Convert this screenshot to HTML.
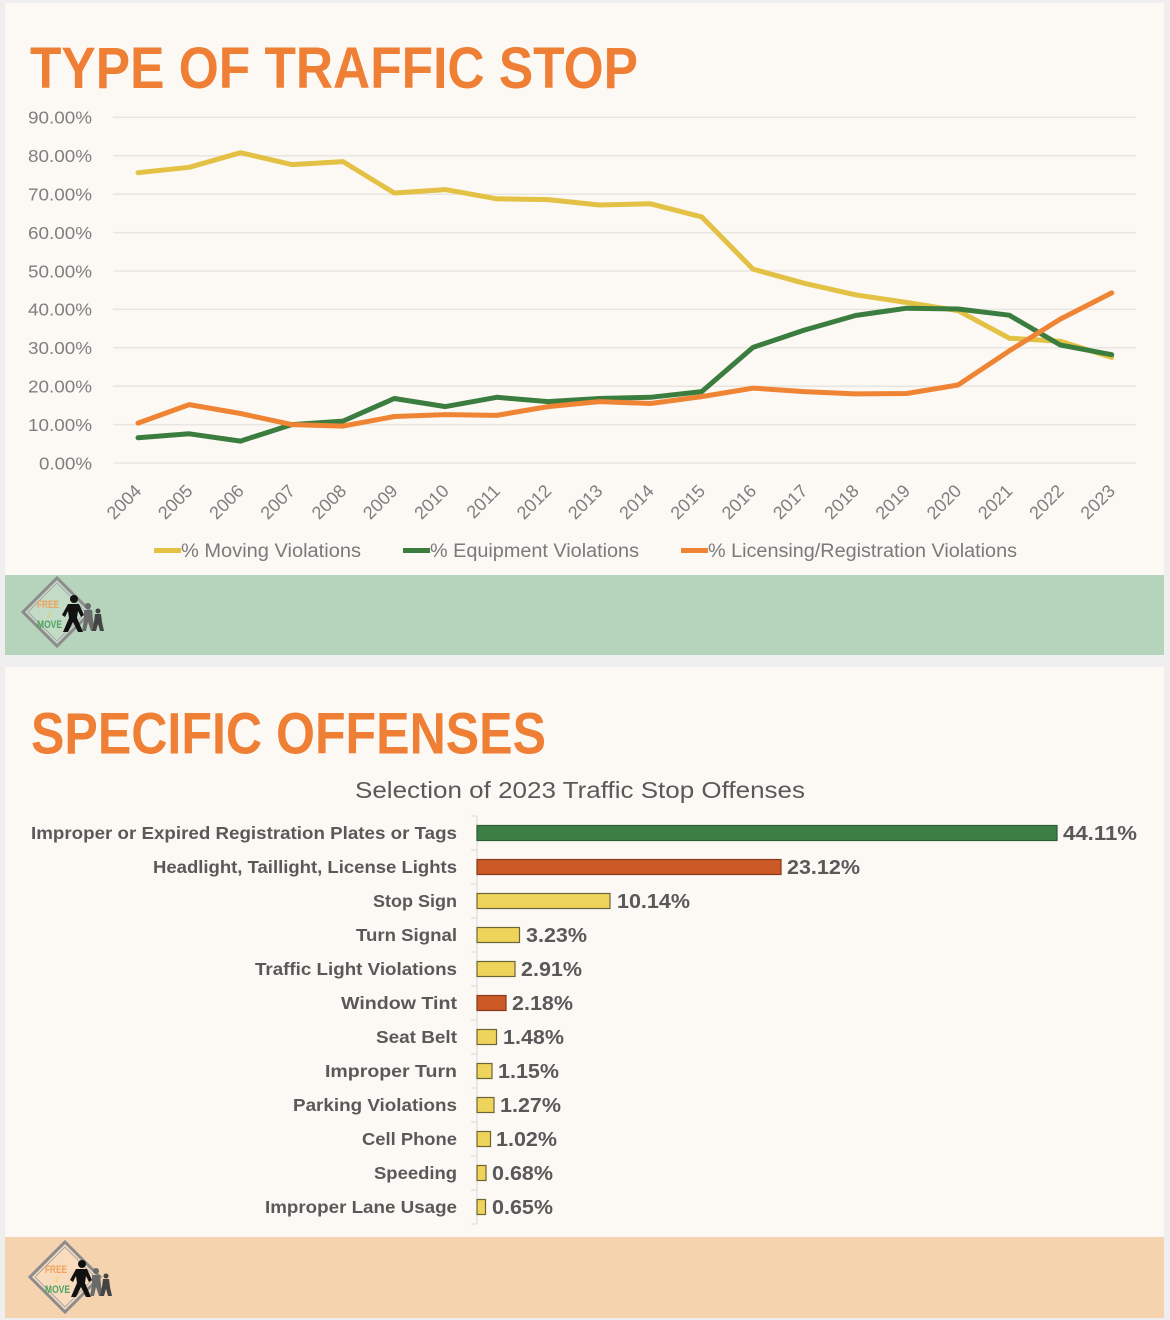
<!DOCTYPE html>
<html><head><meta charset="utf-8"><style>
html,body{margin:0;padding:0;background:#efefef;}
svg{display:block;}
text{font-family:"Liberation Sans",Arial,sans-serif;}
</style></head><body>
<svg width="1170" height="1320" viewBox="0 0 1170 1320" xmlns="http://www.w3.org/2000/svg">
<defs>
<g id="figs">
<circle cx="17" cy="-13" r="4" fill="#111"/>
<path d="M11,-8 L22,-8 L27,3 L24,5 L21,-1 L20,6 L26,20 L21,20 L16,10 L11,20 L6,20 L12,6 L11,-1 L8,5 L5,3 Z" fill="#111"/>
<circle cx="31" cy="-6" r="3" fill="#6a6a6a"/>
<path d="M27,-2 L35,-2 L36,8 L38,19 L34,19 L31,10 L29,19 L25,19 L27,8 Z" fill="#6a6a6a"/>
<circle cx="41" cy="-1" r="2.5" fill="#444"/>
<path d="M38,2 L44,2 L45,10 L47,19 L43,19 L41,12 L39,19 L35,19 L37,10 Z" fill="#444"/>
</g>
</defs>
<rect x="0" y="0" width="1170" height="1320" fill="#efefef"/>
<!-- top panel -->
<rect x="5" y="3" width="1159" height="652" fill="#fcf8f4"/>
<rect x="5" y="575" width="1159" height="80" fill="#b6d3bc"/>
<!-- bottom panel -->
<rect x="5" y="667" width="1159" height="651" fill="#fcf8f4"/>
<rect x="5" y="1237" width="1159" height="81" fill="#f6d3af"/>

<text x="30" y="88" font-size="58" font-weight="bold" fill="#ee7f34" textLength="608" lengthAdjust="spacingAndGlyphs">TYPE OF TRAFFIC STOP</text>

<!-- gridlines -->
<g stroke="#e9e5e1" stroke-width="1.5">
<line x1="113" y1="117.4" x2="1136" y2="117.4"/>
<line x1="113" y1="155.8" x2="1136" y2="155.8"/>
<line x1="113" y1="194.2" x2="1136" y2="194.2"/>
<line x1="113" y1="232.6" x2="1136" y2="232.6"/>
<line x1="113" y1="271" x2="1136" y2="271"/>
<line x1="113" y1="309.4" x2="1136" y2="309.4"/>
<line x1="113" y1="347.8" x2="1136" y2="347.8"/>
<line x1="113" y1="386.2" x2="1136" y2="386.2"/>
<line x1="113" y1="424.6" x2="1136" y2="424.6"/>
<line x1="113" y1="463" x2="1136" y2="463"/>
</g>
<g font-size="17.5" fill="#7f7f7f">
<text x="28" y="123.7" textLength="64" lengthAdjust="spacingAndGlyphs">90.00%</text>
<text x="28" y="162.1" textLength="64" lengthAdjust="spacingAndGlyphs">80.00%</text>
<text x="28" y="200.5" textLength="64" lengthAdjust="spacingAndGlyphs">70.00%</text>
<text x="28" y="238.9" textLength="64" lengthAdjust="spacingAndGlyphs">60.00%</text>
<text x="28" y="277.3" textLength="64" lengthAdjust="spacingAndGlyphs">50.00%</text>
<text x="28" y="315.7" textLength="64" lengthAdjust="spacingAndGlyphs">40.00%</text>
<text x="28" y="354.1" textLength="64" lengthAdjust="spacingAndGlyphs">30.00%</text>
<text x="28" y="392.5" textLength="64" lengthAdjust="spacingAndGlyphs">20.00%</text>
<text x="28" y="430.9" textLength="64" lengthAdjust="spacingAndGlyphs">10.00%</text>
<text x="39" y="469.3" textLength="53" lengthAdjust="spacingAndGlyphs">0.00%</text>
</g>
<!-- x labels -->
<g font-size="18" fill="#7f7f7f" text-anchor="end">
<text x="142.5" y="492" transform="rotate(-45 142.5 492)">2004</text>
<text x="193.75" y="492" transform="rotate(-45 193.75 492)">2005</text>
<text x="245" y="492" transform="rotate(-45 245 492)">2006</text>
<text x="296.25" y="492" transform="rotate(-45 296.25 492)">2007</text>
<text x="347.5" y="492" transform="rotate(-45 347.5 492)">2008</text>
<text x="398.75" y="492" transform="rotate(-45 398.75 492)">2009</text>
<text x="450" y="492" transform="rotate(-45 450 492)">2010</text>
<text x="501.25" y="492" transform="rotate(-45 501.25 492)">2011</text>
<text x="552.5" y="492" transform="rotate(-45 552.5 492)">2012</text>
<text x="603.75" y="492" transform="rotate(-45 603.75 492)">2013</text>
<text x="655" y="492" transform="rotate(-45 655 492)">2014</text>
<text x="706.25" y="492" transform="rotate(-45 706.25 492)">2015</text>
<text x="757.5" y="492" transform="rotate(-45 757.5 492)">2016</text>
<text x="808.75" y="492" transform="rotate(-45 808.75 492)">2017</text>
<text x="860" y="492" transform="rotate(-45 860 492)">2018</text>
<text x="911.25" y="492" transform="rotate(-45 911.25 492)">2019</text>
<text x="962.5" y="492" transform="rotate(-45 962.5 492)">2020</text>
<text x="1013.75" y="492" transform="rotate(-45 1013.75 492)">2021</text>
<text x="1065" y="492" transform="rotate(-45 1065 492)">2022</text>
<text x="1116.25" y="492" transform="rotate(-45 1116.25 492)">2023</text>
</g>
<!-- series -->
<g fill="none" stroke-width="5" stroke-linejoin="round" stroke-linecap="round">
<polyline stroke="#e3c144" points="138,172.7 189.25,167.3 240.5,152.7 291.75,164.6 343,161.6 394.25,193 445.5,189.6 496.75,198.8 548,199.6 599.25,205 650.5,203.8 701.75,216.9 753,269.1 804.25,283.3 855.5,294.8 906.75,302.5 958,310.6 1009.25,338.2 1060.5,341.3 1111.75,357.4"/>
<polyline stroke="#3b7d3f" points="138,437.7 189.25,433.8 240.5,441.1 291.75,424.6 343,421.1 394.25,398.5 445.5,406.6 496.75,397.3 548,401.6 599.25,398.5 650.5,397.3 701.75,391.6 753,347.4 804.25,330.1 855.5,315.5 906.75,308.2 958,309 1009.25,315.2 1060.5,345.1 1111.75,354.7"/>
<polyline stroke="#ee8434" points="138,423.1 189.25,404.6 240.5,413.5 291.75,424.6 343,426.1 394.25,416.5 445.5,414.6 496.75,415.4 548,406.6 599.25,401.6 650.5,403.5 701.75,396.6 753,388.1 804.25,391.6 855.5,393.9 906.75,393.5 958,385 1009.25,350.9 1060.5,319 1111.75,292.9"/>
</g>
<!-- legend -->
<g stroke-width="5">
<line x1="154" y1="550.5" x2="181" y2="550.5" stroke="#e3c144"/>
<line x1="403" y1="550.5" x2="430" y2="550.5" stroke="#3b7d3f"/>
<line x1="681" y1="550.5" x2="708" y2="550.5" stroke="#ee8434"/>
</g>
<g font-size="19" fill="#7a7a7a">
<text x="181" y="557" textLength="180" lengthAdjust="spacingAndGlyphs">% Moving Violations</text>
<text x="430" y="557" textLength="209" lengthAdjust="spacingAndGlyphs">% Equipment Violations</text>
<text x="708" y="557" textLength="309" lengthAdjust="spacingAndGlyphs">% Licensing/Registration Violations</text>
</g>

<!-- logo top -->
<g transform="translate(57,612)">
<polygon points="0,-34 34,0 0,34 -34,0" fill="#c4dbc8" stroke="#8c8c8c" stroke-width="3"/>
<polygon points="0,-29 29,0 0,29 -29,0" fill="none" stroke="#a8a8a8" stroke-width="1"/>
<text x="-20" y="-4" font-size="11" font-weight="bold" fill="#efa35a" textLength="22" lengthAdjust="spacingAndGlyphs">FREE</text>
<text x="-10" y="5" font-size="7" fill="#e8d040">2</text>
<text x="-20" y="16" font-size="11" font-weight="bold" fill="#4ea35f" textLength="25" lengthAdjust="spacingAndGlyphs">MOVE</text>
<use href="#figs"/>
</g>

<!-- bottom panel content -->
<text x="31" y="753.5" font-size="58" font-weight="bold" fill="#ee7f34" textLength="515" lengthAdjust="spacingAndGlyphs">SPECIFIC OFFENSES</text>
<text x="355" y="798" font-size="23" fill="#595959" textLength="450" lengthAdjust="spacingAndGlyphs">Selection of 2023 Traffic Stop Offenses</text>

<!-- axis -->
<g stroke="#d9d9d9" stroke-width="1">
<line x1="477" y1="816" x2="477" y2="1224"/>
<line x1="471" y1="816" x2="477" y2="816"/>
<line x1="471" y1="850" x2="477" y2="850"/>
<line x1="471" y1="884" x2="477" y2="884"/>
<line x1="471" y1="918" x2="477" y2="918"/>
<line x1="471" y1="952" x2="477" y2="952"/>
<line x1="471" y1="986" x2="477" y2="986"/>
<line x1="471" y1="1020" x2="477" y2="1020"/>
<line x1="471" y1="1054" x2="477" y2="1054"/>
<line x1="471" y1="1088" x2="477" y2="1088"/>
<line x1="471" y1="1122" x2="477" y2="1122"/>
<line x1="471" y1="1156" x2="477" y2="1156"/>
<line x1="471" y1="1190" x2="477" y2="1190"/>
<line x1="471" y1="1224" x2="477" y2="1224"/>
</g>

<!-- category labels -->
<g font-size="17.5" font-weight="bold" fill="#595959">
<text x="31" y="839" textLength="426" lengthAdjust="spacingAndGlyphs">Improper or Expired Registration Plates or Tags</text>
<text x="153" y="873" textLength="304" lengthAdjust="spacingAndGlyphs">Headlight, Taillight, License Lights</text>
<text x="373" y="907" textLength="84" lengthAdjust="spacingAndGlyphs">Stop Sign</text>
<text x="356" y="941" textLength="101" lengthAdjust="spacingAndGlyphs">Turn Signal</text>
<text x="255" y="975" textLength="202" lengthAdjust="spacingAndGlyphs">Traffic Light Violations</text>
<text x="341" y="1009" textLength="116" lengthAdjust="spacingAndGlyphs">Window Tint</text>
<text x="376" y="1043" textLength="81" lengthAdjust="spacingAndGlyphs">Seat Belt</text>
<text x="325" y="1077" textLength="132" lengthAdjust="spacingAndGlyphs">Improper Turn</text>
<text x="293" y="1111" textLength="164" lengthAdjust="spacingAndGlyphs">Parking Violations</text>
<text x="362" y="1145" textLength="95" lengthAdjust="spacingAndGlyphs">Cell Phone</text>
<text x="374" y="1179" textLength="83" lengthAdjust="spacingAndGlyphs">Speeding</text>
<text x="265" y="1213" textLength="192" lengthAdjust="spacingAndGlyphs">Improper Lane Usage</text>
</g>

<!-- bars -->
<g stroke-width="1.2">
<rect x="477" y="825.5" width="580" height="15" fill="#3b7f44" stroke="#2c5a31"/>
<rect x="477" y="859.5" width="304" height="15" fill="#cb5a27" stroke="#86391a"/>
<rect x="477" y="893.5" width="133" height="15" fill="#efd45c" stroke="#6e6535"/>
<rect x="477" y="927.5" width="42.5" height="15" fill="#efd45c" stroke="#6e6535"/>
<rect x="477" y="961.5" width="38" height="15" fill="#efd45c" stroke="#6e6535"/>
<rect x="477" y="995.5" width="29" height="15" fill="#cb5a27" stroke="#86391a"/>
<rect x="477" y="1029.5" width="19.5" height="15" fill="#efd45c" stroke="#6e6535"/>
<rect x="477" y="1063.5" width="15" height="15" fill="#efd45c" stroke="#6e6535"/>
<rect x="477" y="1097.5" width="17" height="15" fill="#efd45c" stroke="#6e6535"/>
<rect x="477" y="1131.5" width="13.5" height="15" fill="#efd45c" stroke="#6e6535"/>
<rect x="477" y="1165.5" width="9" height="15" fill="#efd45c" stroke="#6e6535"/>
<rect x="477" y="1199.5" width="8.5" height="15" fill="#efd45c" stroke="#6e6535"/>
</g>

<!-- values -->
<g font-size="20" font-weight="bold" fill="#595959">
<text x="1063" y="840" textLength="74" lengthAdjust="spacingAndGlyphs">44.11%</text>
<text x="787" y="874" textLength="73" lengthAdjust="spacingAndGlyphs">23.12%</text>
<text x="617" y="908" textLength="73" lengthAdjust="spacingAndGlyphs">10.14%</text>
<text x="526" y="942" textLength="61" lengthAdjust="spacingAndGlyphs">3.23%</text>
<text x="521" y="976" textLength="61" lengthAdjust="spacingAndGlyphs">2.91%</text>
<text x="512" y="1010" textLength="61" lengthAdjust="spacingAndGlyphs">2.18%</text>
<text x="503" y="1044" textLength="61" lengthAdjust="spacingAndGlyphs">1.48%</text>
<text x="498" y="1078" textLength="61" lengthAdjust="spacingAndGlyphs">1.15%</text>
<text x="500" y="1112" textLength="61" lengthAdjust="spacingAndGlyphs">1.27%</text>
<text x="496" y="1146" textLength="61" lengthAdjust="spacingAndGlyphs">1.02%</text>
<text x="492" y="1180" textLength="61" lengthAdjust="spacingAndGlyphs">0.68%</text>
<text x="492" y="1214" textLength="61" lengthAdjust="spacingAndGlyphs">0.65%</text>
</g>

<!-- logo bottom -->
<g transform="translate(65,1277)">
<polygon points="0,-35 35,0 0,35 -35,0" fill="#f9dcbd" stroke="#8c8c8c" stroke-width="3"/>
<polygon points="0,-30 30,0 0,30 -30,0" fill="none" stroke="#a8a8a8" stroke-width="1"/>
<text x="-20" y="-4" font-size="11" font-weight="bold" fill="#efa35a" textLength="22" lengthAdjust="spacingAndGlyphs">FREE</text>
<text x="-10" y="5" font-size="7" fill="#e8d040">2</text>
<text x="-20" y="16" font-size="11" font-weight="bold" fill="#4ea35f" textLength="25" lengthAdjust="spacingAndGlyphs">MOVE</text>
<use href="#figs"/>
</g>
</svg>
</body></html>
